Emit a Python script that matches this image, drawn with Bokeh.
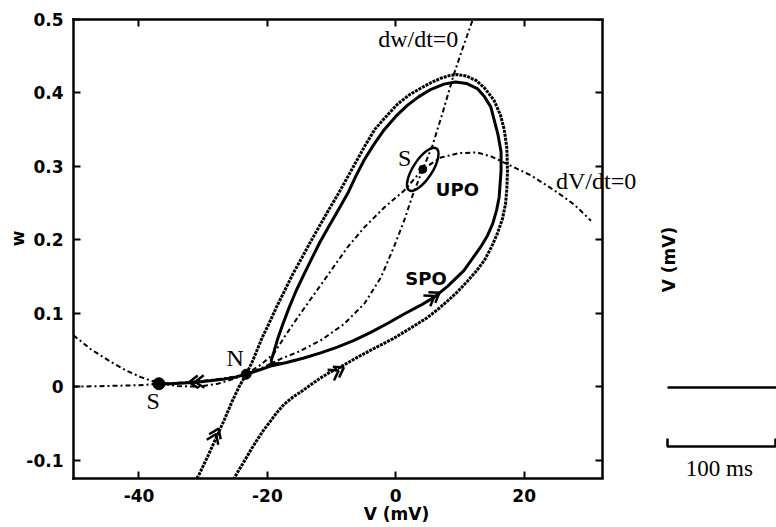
import math
from bokeh.plotting import figure
from bokeh.models import Range1d, LinearAxis, FixedTicker, Label
from bokeh.embed import file_html
from bokeh.resources import INLINE

# ---------------- data ----------------
x_ticks = [-40, -20, 0, 20]
x_tick_labels = ["-40", "-20", "0", "20"]
y_ticks = [-0.1, 0.0, 0.1, 0.2, 0.3, 0.4, 0.5]
y_tick_labels = ["-0.1", "0", "0.1", "0.2", "0.3", "0.4", "0.5"]

# dV/dt = 0 nullcline
vnull_V = [-50.2, -47.5, -44.4, -42.0, -39.7, -37.0, -34.0, -30.8, -27.7, -25.5, -23.3,
           -21.0, -19.0, -17.4, -15.3, -12.7, -10.1, -7.5, -4.9, -1.8, 1.3, 4.2, 7.0,
           9.8, 12.7, 15.0, 17.4, 21.0, 24.6, 27.8, 30.4]
vnull_w = [0.070, 0.051, 0.034, 0.022, 0.013, 0.005, 0.001, 0.000, 0.004, 0.010, 0.017,
           0.030, 0.045, 0.067, 0.094, 0.126, 0.158, 0.190, 0.217, 0.244, 0.267, 0.296, 0.312,
           0.318, 0.319, 0.313, 0.303, 0.288, 0.268, 0.248, 0.226]

# dw/dt = 0 nullcline
wnull_V = [-50.2, -45.0, -40.0, -37.0, -33.0, -30.0, -27.0, -25.0, -23.3, -20.5, -17.9,
           -15.3, -11.7, -8.1, -4.9, -2.3, -0.3, 1.3, 2.6, 4.2, 5.7, 7.3, 9.0, 10.5, 12.0]
wnull_w = [0.000, 0.001, 0.002, 0.004, 0.006, 0.008, 0.011, 0.014, 0.017, 0.027, 0.038,
           0.047, 0.063, 0.085, 0.113, 0.149, 0.190, 0.226, 0.260, 0.296, 0.328, 0.373, 0.424, 0.463, 0.500]

# dashed trajectory (manifold) around the stable periodic orbit
mani_V = [-31.0, -30.6, -29.3, -28.0, -26.7, -25.5, -24.4, -23.3, -22.4, -21.6, -20.8, -19.8,
          -18.6, -17.3, -16.0, -14.6, -13.3, -12.0, -10.5, -9.0, -7.6, -6.2, -4.8, -3.3, -1.5,
          0.3, 2.2, 4.0, 5.5, 7.0, 8.5, 9.6, 11.0, 12.5, 13.8, 15.3, 16.3, 16.9, 17.3, 17.4,
          17.3, 17.1, 16.6, 15.8, 14.9, 13.8, 12.5, 11.2, 9.7, 8.1, 6.5, 4.9, 1.8, -0.5, -3.4,
          -6.0, -8.6, -10.2, -11.7, -13.2, -14.6, -16.0, -17.4, -18.6, -19.6, -20.5, -21.5,
          -22.5, -23.5, -24.4, -25.2]
mani_w = [-0.125, -0.119, -0.095, -0.070, -0.045, -0.020, 0.000, 0.017, 0.033, 0.050, 0.067, 0.085,
          0.108, 0.131, 0.154, 0.176, 0.197, 0.217, 0.240, 0.262, 0.284, 0.306, 0.328, 0.350, 0.368,
          0.385, 0.398, 0.407, 0.414, 0.420, 0.424, 0.425, 0.423, 0.417, 0.407, 0.390, 0.370, 0.350, 0.325, 0.294,
          0.270, 0.249, 0.228, 0.208, 0.190, 0.172, 0.157, 0.144, 0.130, 0.117, 0.105, 0.094, 0.077, 0.065, 0.052,
          0.040, 0.027, 0.020, 0.012, 0.003, -0.006, -0.014, -0.024, -0.036, -0.048, -0.058, -0.071,
          -0.085, -0.100, -0.113, -0.125]

# solid stable periodic orbit (SPO) leaving the saddle N
spo_V = [-23.3, -21.5, -19.5, -17.0, -14.3, -11.7, -9.1, -6.5, -3.9, -1.3, 1.3, 3.9, 6.0, 8.1,
         10.6, 13.2, 14.3, 15.1, 15.7, 16.1, 16.4, 16.4, 15.9, 14.8, 13.8, 12.7, 11.0, 9.3, 7.5,
         5.5, 3.6, 1.8, 0.0, -1.8, -3.4, -4.9, -6.2, -7.5, -9.0, -10.5, -11.8, -13.0, -14.3,
         -15.5, -16.6, -17.6, -18.4, -19.0, -19.4, -19.3, -17.5]
spo_w = [0.017, 0.022, 0.028, 0.033, 0.039, 0.046, 0.054, 0.063, 0.074, 0.086, 0.099, 0.111, 0.122, 0.137,
         0.158, 0.190, 0.206, 0.222, 0.240, 0.258, 0.294, 0.320, 0.344, 0.381, 0.395, 0.406, 0.413, 0.415, 0.412,
         0.405, 0.395, 0.383, 0.368, 0.350, 0.330, 0.309, 0.287, 0.263, 0.240, 0.217, 0.197, 0.176, 0.153,
         0.131, 0.108, 0.085, 0.065, 0.047, 0.036, 0.031, 0.032]

# solid unstable branch from N to the left stable point S
unst_V = [-23.3, -25.0, -27.0, -29.0, -31.0, -33.0, -35.0, -36.9]
unst_w = [0.017, 0.013, 0.010, 0.008, 0.006, 0.005, 0.004, 0.004]

# unstable periodic orbit (UPO) around the upper S
upo_V = [4.2]
upo_w = [0.296]

# fixed points: S (left), N (saddle), S (upper)
fp_V = [-36.9, -23.3, 4.2]
fp_w = [0.004, 0.017, 0.296]
fp_size = [12, 10, 8]

# double arrow heads on trajectories (tip position, direction in degrees)
arrow_V = [-32.2, -27.6, -8.1, 6.8]
arrow_w = [0.006, -0.057, 0.026, 0.128]
arrow_dir = [183, 66, 30, 33]

# voltage trace (right inset): rest at S over the visible time, and a 100 ms scale bar
trace_t = [0, 101]
trace_v = [-37, -37]
scalebar_t = [0, 100]
scalebar_v = -66.5

# ---------------- layout constants ----------------
V_MIN, V_MAX = -50.2, 32.2          # phase-plane box, V axis
W_MIN, W_MAX = -0.125, 0.5          # phase-plane box, w axis
BOX_W, FRAME_H = 529, 459           # phase-plane box size in px
LEFT, TOP, BOTTOM = 73, 19, 49
WIDTH, HEIGHT = 776, 527
FRAME_W = WIDTH - LEFT              # frame runs to the right edge of the page
SX = BOX_W / (V_MAX - V_MIN)
SY = FRAME_H / (W_MAX - W_MIN)

# inset ranges (time in ms, membrane potential in mV): 1.08 px per ms, 2 px per mV
PX_PER_MS, PX_PER_MV = 1.08, 2.0
T0 = -(667 - LEFT) / PX_PER_MS
VT_TOP = -37 + (387 - TOP) / PX_PER_MV

p = figure(width=WIDTH, height=HEIGHT,
           x_range=Range1d(V_MIN, V_MIN + FRAME_W / SX), y_range=Range1d(W_MIN, W_MAX),
           output_backend="svg", toolbar_location=None,
           min_border_left=LEFT, min_border_right=0, min_border_top=TOP, min_border_bottom=BOTTOM)
p.extra_x_ranges = {"t": Range1d(T0, T0 + FRAME_W / PX_PER_MS)}
p.extra_y_ranges = {"vt": Range1d(VT_TOP - FRAME_H / PX_PER_MV, VT_TOP)}
p.title.visible = False
p.background_fill_color = "white"
p.border_fill_color = "white"
p.outline_line_color = None
p.grid.visible = False

# box sides: right side is an axis pinned at V_MAX
p.add_layout(LinearAxis(fixed_location=V_MAX), "right")
p.add_layout(LinearAxis(), "above")

for ax in p.xaxis:
    ax.ticker = FixedTicker(ticks=x_ticks)
    ax.major_label_overrides = dict(zip(x_ticks, x_tick_labels))
    ax.bounds = (V_MIN, V_MAX)
for ax in p.yaxis:
    ax.ticker = FixedTicker(ticks=y_ticks)
    ax.major_label_overrides = dict(zip(y_ticks, y_tick_labels))
    ax.bounds = (W_MIN, W_MAX)

for ax in p.axis:
    ax.axis_line_width = 2.5
    ax.axis_line_color = "black"
    ax.axis_line_cap = "square"
    ax.major_tick_in = 7
    ax.major_tick_out = 0
    ax.major_tick_line_width = 2
    ax.major_tick_line_color = "black"
    ax.minor_tick_line_color = None
    ax.major_label_text_font = "DejaVu Sans"
    ax.major_label_text_font_style = "bold"
    ax.major_label_text_color = "black"

p.below[0].major_label_text_font_size = "17px"
p.below[0].major_label_standoff = 10
p.left[0].major_label_text_font_size = "17px"
p.left[0].major_label_standoff = 10
for ax in (p.right[0], p.above[0]):
    ax.major_label_text_font_size = "0px"
    ax.major_label_text_alpha = 0
    ax.major_label_standoff = 0

NULL_DASH = "5 3 2 3"
p.line(vnull_V, vnull_w, line_color="black", line_width=2, line_dash=NULL_DASH)
p.line(wnull_V, wnull_w, line_color="black", line_width=2, line_dash=NULL_DASH)
p.line(mani_V, mani_w, line_color="black", line_width=3, line_dash="3 1")
p.line(spo_V, spo_w, line_color="black", line_width=3, line_join="round")
p.line(unst_V, unst_w, line_color="black", line_width=3)
p.ellipse(x=upo_V, y=upo_w, width=19, height=50, angle=-0.576,
          width_units="screen", height_units="screen",
          fill_color=None, line_color="black", line_width=2.5)
p.scatter(fp_V, fp_w, size=fp_size, marker="circle", fill_color="black", line_color="black")

# double chevrons
ch_xs, ch_ys = [], []
L, GAP, HALF = 11, 6, math.radians(35)
for v, w, d in zip(arrow_V, arrow_w, arrow_dir):
    a = math.radians(d)
    for k in range(2):
        tx = v - k * GAP * math.cos(a) / SX
        ty = w - k * GAP * math.sin(a) / SY
        b1 = a + math.pi + HALF
        b2 = a + math.pi - HALF
        ch_xs.append([tx + L * math.cos(b1) / SX, tx, tx + L * math.cos(b2) / SX])
        ch_ys.append([ty + L * math.sin(b1) / SY, ty, ty + L * math.sin(b2) / SY])
p.multi_line(ch_xs, ch_ys, line_color="black", line_width=2.5)

# voltage trace inset
p.line(trace_t, trace_v, x_range_name="t", y_range_name="vt", line_color="black", line_width=2.6)
TICK_H = 4.0
p.line([scalebar_t[0], scalebar_t[0], scalebar_t[1], scalebar_t[1]],
       [scalebar_v + TICK_H, scalebar_v, scalebar_v, scalebar_v + TICK_H],
       x_range_name="t", y_range_name="vt", line_color="black", line_width=2.5)

SERIF = "Liberation Serif"
def lab(x, y, text, font=SERIF, size="24px", style="normal", angle=0.0,
        align="center", baseline="alphabetic", place="center", xr="default", yr="default"):
    p.add_layout(Label(x=x, y=y, text=text, text_font=font, text_font_size=size,
                       text_font_style=style, text_color="black", angle=angle,
                       text_align=align, text_baseline=baseline,
                       x_range_name=xr, y_range_name=yr), place)

lab(3.5, 0.473, "dw/dt=0")
lab(31.2, 0.280, "dV/dt=0")
lab(1.4, 0.311, "S")
lab(-25.0, 0.039, "N")
lab(-37.8, -0.020, "S")
lab(9.6, 0.268, "UPO", font="DejaVu Sans", size="18px", style="bold")
lab(4.7, 0.148, "SPO", font="DejaVu Sans", size="18px", style="bold")
lab((scalebar_t[0] + scalebar_t[1]) / 2 - 2, -77.3, "100 ms", size="23px", xr="t", yr="vt")
lab(1, 27, "V (mV)", font="DejaVu Sans", size="17px", style="bold", angle=math.pi / 2,
    baseline="middle", xr="t", yr="vt")
# axis titles (outside the frame)
lab(-58.9, 0.202, "w", font="DejaVu Sans", size="17px", style="bold",
    angle=math.pi / 2, baseline="middle", place="left")
lab(0.1, -0.174, "V (mV)", font="DejaVu Sans", size="17px", style="bold",
    baseline="middle", place="below")

open("out.html", "w").write(file_html(p, INLINE))
